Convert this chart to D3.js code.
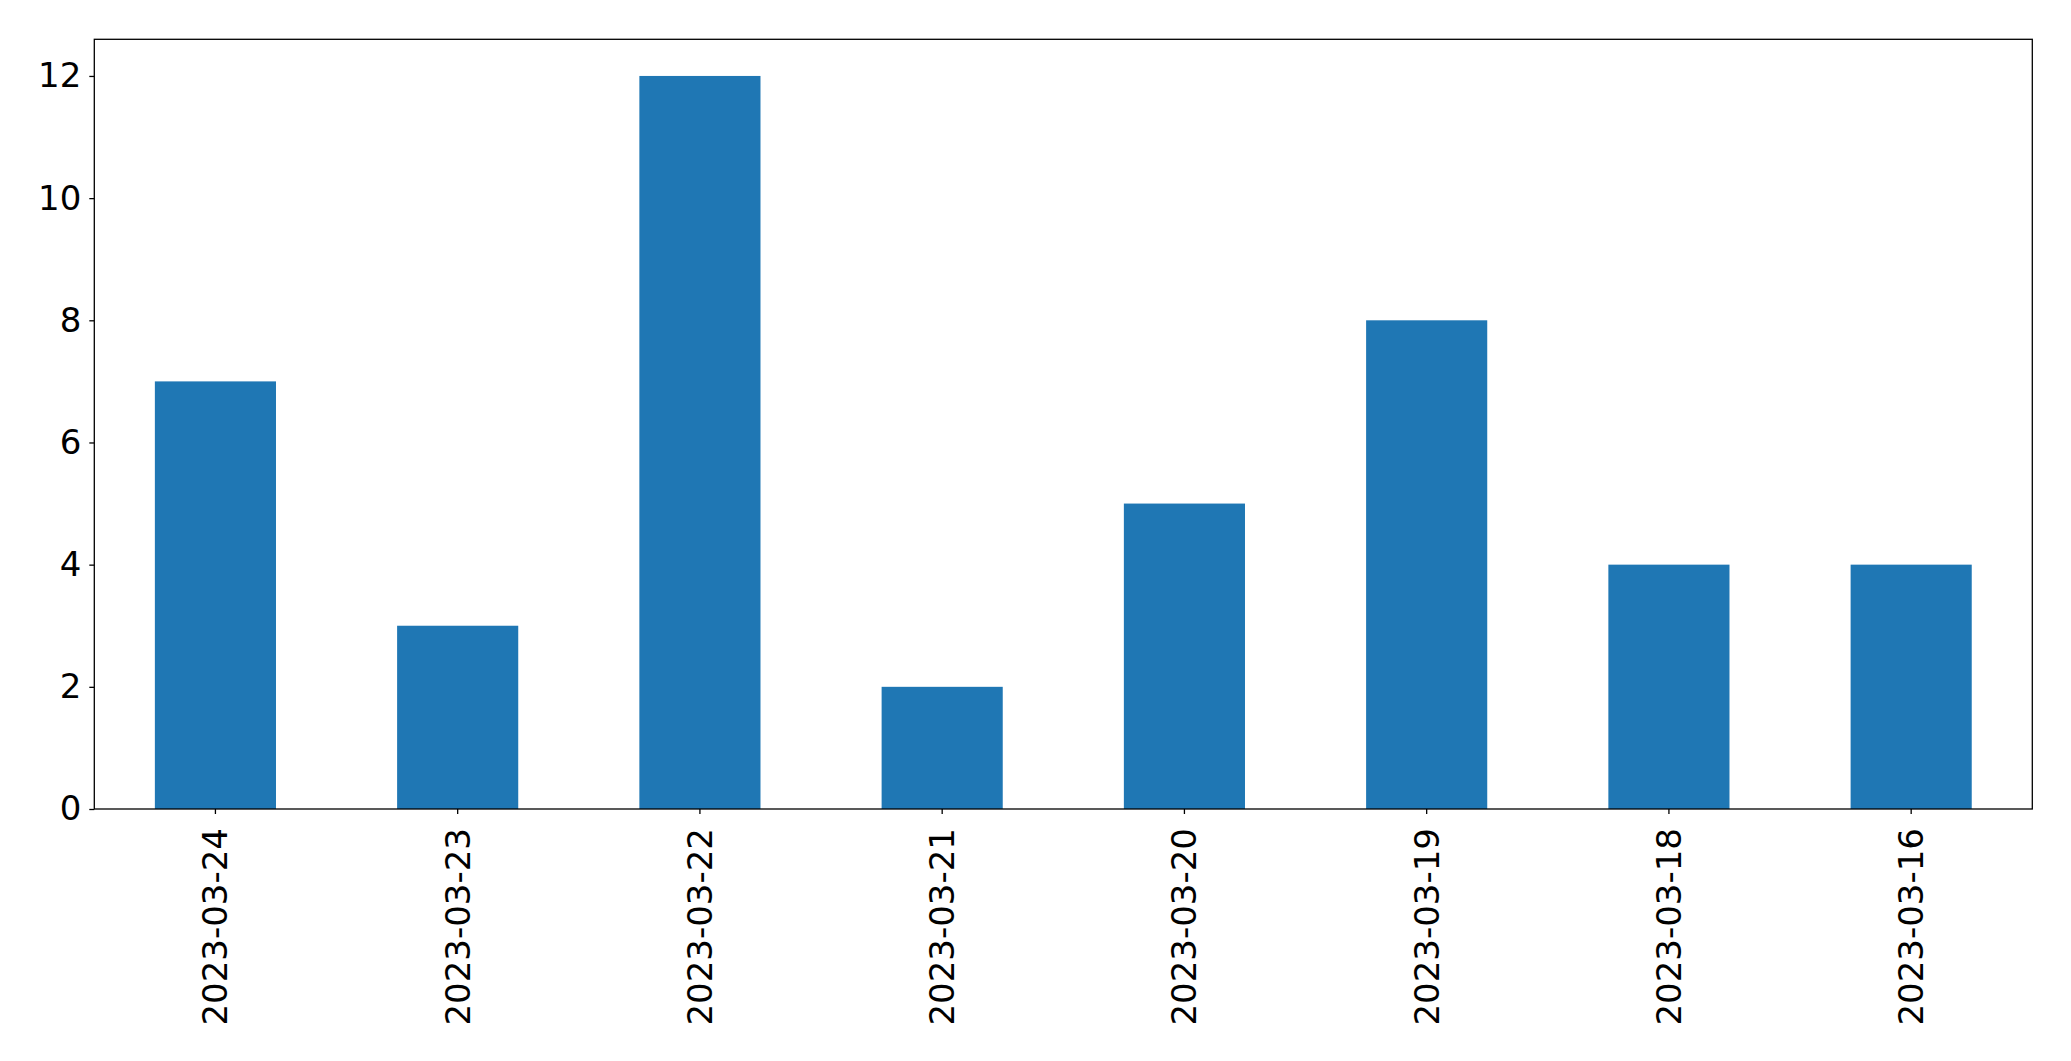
<!DOCTYPE html>
<html><head><meta charset="utf-8">
<script src="https://cdn.jsdelivr.net/npm/d3@7"></script>
<style>html,body{margin:0;padding:0;background:#fff;}svg{display:block;font-family:"DejaVu Sans",sans-serif;}</style>
</head><body>
<script>
const categories = ["2023-03-24","2023-03-23","2023-03-22","2023-03-21","2023-03-20","2023-03-19","2023-03-18","2023-03-16"];
const values = [7,3,12,2,5,8,4,4];
const yTicks = [0,2,4,6,8,10,12];

(function(){
const W = 2071, H = 1061;
const mLeft = 94.3, mRight = 2032.3, mTop = 39.3, mBottom = 809;
const svg = d3.select("body").append("svg").attr("width", W).attr("height", H);

const x = d3.scaleBand().domain(categories).range([mLeft, mRight]).paddingInner(0.5).paddingOuter(0.25);
const y = d3.scaleLinear().domain([0, 12.6]).range([mBottom, mTop]);

svg.append("g").selectAll("rect").data(values).join("rect")
  .attr("x", (d,i) => x(categories[i]))
  .attr("width", x.bandwidth())
  .attr("y", d => y(d))
  .attr("height", d => y(0) - y(d))
  .attr("fill", "#1f77b4");

const fs = 34;
const yAxis = svg.append("g").attr("transform", `translate(${mLeft},0)`)
  .call(d3.axisLeft(y).tickValues(yTicks).tickSize(5).tickPadding(8).tickFormat(d3.format("d")));
yAxis.select(".domain").remove();
yAxis.selectAll("line").attr("stroke", "#000").attr("stroke-width", 1.3);
yAxis.selectAll("text").attr("font-size", fs).attr("fill", "#000").attr("font-family", "DejaVu Sans");

const xAxis = svg.append("g").attr("transform", `translate(0,${mBottom})`)
  .call(d3.axisBottom(x).tickSize(5).tickSizeOuter(0));
xAxis.select(".domain").remove();
xAxis.selectAll("line").attr("stroke", "#000").attr("stroke-width", 1.3);
xAxis.selectAll("text")
  .attr("font-size", fs).attr("fill", "#000").attr("font-family", "DejaVu Sans")
  .attr("transform", "rotate(-90)")
  .attr("text-anchor", "end")
  .attr("x", -19).attr("y", 0).attr("dy", "0.35em");

svg.append("rect").attr("x", mLeft).attr("y", mTop).attr("width", mRight-mLeft).attr("height", mBottom-mTop)
  .attr("fill", "none").attr("stroke", "#000").attr("stroke-width", 1.3);
})();
</script>
</body></html>
